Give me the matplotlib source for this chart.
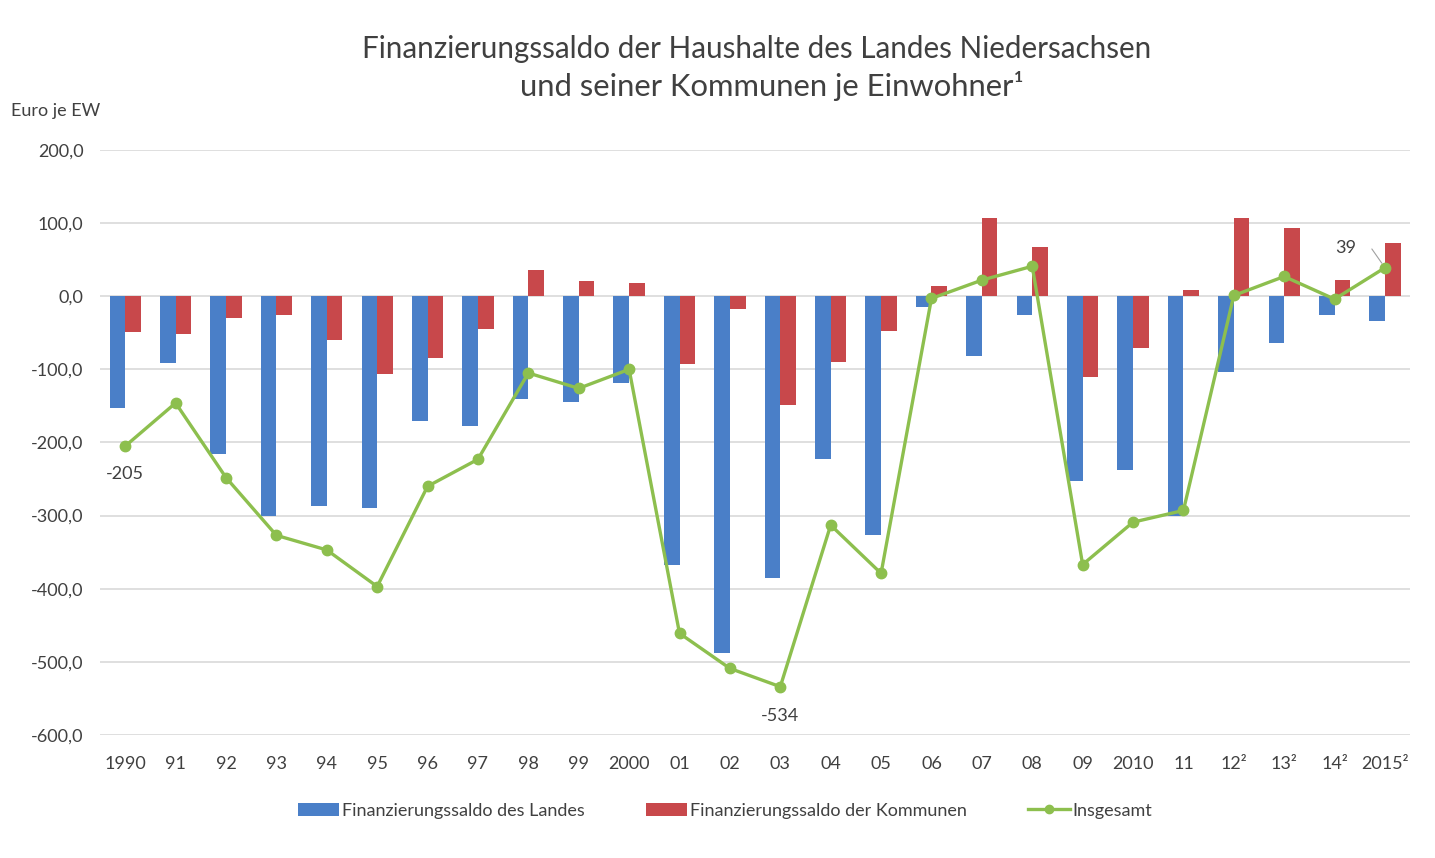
import matplotlib
matplotlib.use("Agg")
import matplotlib.pyplot as plt
import numpy as np

plt.rcParams["font.family"] = ["Lato", "DejaVu Sans"]

# Categories and values (Euro je Einwohner)
years = ["1990", "91", "92", "93", "94", "95", "96", "97", "98", "99", "2000",
         "01", "02", "03", "04", "05", "06", "07", "08", "09", "2010", "11",
         "12²", "13²", "14²", "2015²"]
land = [-153, -92, -216, -301, -287, -290, -171, -178, -140, -144, -118,
        -368, -488, -386, -223, -327, -15, -82, -26, -253, -237, -300,
        -103, -64, -26, -34]
kommunen = [-49, -52, -30, -26, -60, -107, -85, -45, 36, 21, 18,
            -93, -18, -149, -90, -48, 14, 107, 68, -111, -71, 8,
            107, 93, 22, 73]
insgesamt = [-205, -146, -248, -327, -347, -397, -260, -223, -105, -126, -100,
             -461, -509, -534, -313, -379, -3, 22, 41, -367, -309, -293,
             1, 27, -4, 39]
y_ticks = [200, 100, 0, -100, -200, -300, -400, -500, -600]

BLUE = "#4a7fc8"
RED = "#c8484b"
GREEN = "#8dbf4e"
TXT = "#404040"

fig = plt.figure(figsize=(14.35, 8.58), dpi=100)
ax = fig.add_axes([0.0697, 0.1434, 0.913, 0.6818])

x = np.arange(len(years))
w = 0.31
b1 = ax.bar(x - w / 2, land, width=w, color=BLUE, label="Finanzierungssaldo des Landes", zorder=2)
b2 = ax.bar(x + w / 2, kommunen, width=w, color=RED, label="Finanzierungssaldo der Kommunen", zorder=2)
ln, = ax.plot(x, insgesamt, "-o", color=GREEN, linewidth=2.4, markersize=7.5,
              label="Insgesamt", zorder=3)

ax.set_xlim(-0.5, len(years) - 0.5)
ax.set_ylim(-600, 200)
ax.set_yticks(y_ticks)
ax.set_yticklabels([f"{v:.1f}".replace(".", ",") for v in y_ticks])
ax.set_xticks(x)
ax.set_xticklabels(years)
ax.tick_params(length=0, labelcolor=TXT)
ax.tick_params(axis="x", pad=15, labelsize=13)
ax.tick_params(axis="y", pad=12, labelsize=13)
ax.grid(axis="y", color="#d9d9d9", linewidth=1.2, zorder=0)
for s in ax.spines.values():
    s.set_visible(False)

# data labels
ax.annotate("-205", (0, insgesamt[0]), xytext=(0, -20), textcoords="offset points",
            ha="center", va="center", fontsize=13, color=TXT)
ax.annotate("-534", (13, insgesamt[13]), xytext=(0, -21), textcoords="offset points",
            ha="center", va="center", fontsize=13, color=TXT)
ax.annotate("39", (25, insgesamt[25]), xytext=(-28, 14), textcoords="offset points",
            ha="center", va="center", fontsize=13, color=TXT,
            arrowprops=dict(arrowstyle="-", color="#a0a0a0", lw=0.8,
                            connectionstyle="angle,angleA=0,angleB=125,rad=0",
                            shrinkA=9, shrinkB=4))

fig.text(0.527, 0.943, "Finanzierungssaldo der Haushalte des Landes Niedersachsen",
         ha="center", va="center", fontsize=21.3, color=TXT)
fig.text(0.538, 0.900, "und seiner Kommunen je Einwohner¹",
         ha="center", va="center", fontsize=22.3, color=TXT)
fig.text(0.008, 0.871, "Euro je EW", ha="left", va="center", fontsize=13, color=TXT)

leg = ax.legend([b1, b2, ln], [b1.get_label(), b2.get_label(), ln.get_label()],
                loc="upper center", bbox_to_anchor=(0.477, -0.088), ncol=3, frameon=False,
                fontsize=13, handlelength=2.3, columnspacing=3.4, handletextpad=0.15,
                markerscale=0.8)
for t in leg.get_texts():
    t.set_color(TXT)

fig.savefig("out.png", dpi=100)
